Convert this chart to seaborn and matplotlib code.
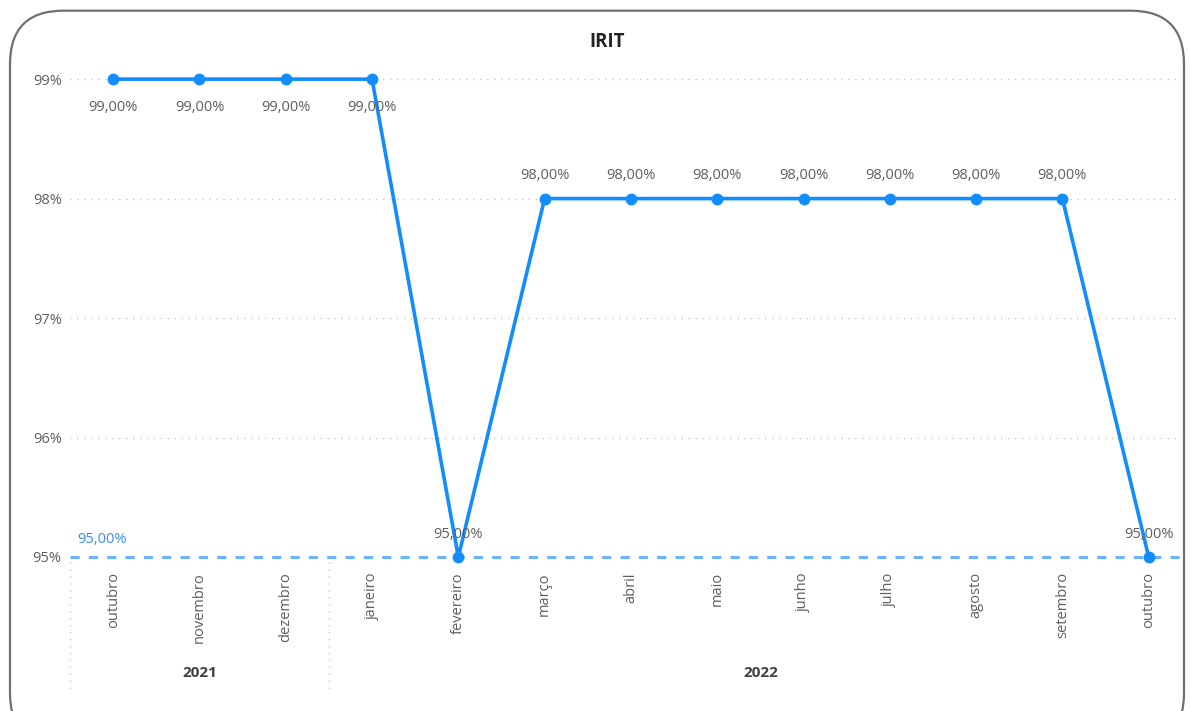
import numpy as np
import pandas as pd
import seaborn as sns
import matplotlib.pyplot as plt
from matplotlib.patches import FancyBboxPatch

# Data
months = ["outubro", "novembro", "dezembro", "janeiro", "fevereiro", "março", "abril",
          "maio", "junho", "julho", "agosto", "setembro", "outubro"]
years = ["2021", "2021", "2021", "2022", "2022", "2022", "2022",
         "2022", "2022", "2022", "2022", "2022", "2022"]
irit = [99, 99, 99, 99, 95, 98, 98, 98, 98, 98, 98, 98, 95]
meta = 95
y_ticks = [95, 96, 97, 98, 99]

df = pd.DataFrame({"idx": np.arange(len(months)), "mes": months, "ano": years, "IRIT": irit})

sns.set_theme(style="white")
plt.rcParams["font.family"] = ["Open Sans", "DejaVu Sans"]

BLUE = "#118DFF"
GREY = "#605E5C"
FS = 10.5

fig = plt.figure(figsize=(11.9, 7.11), dpi=100)
ax = fig.add_axes([70 / 1190, 154 / 711, 1112 / 1190, 497 / 711])

# rounded card border
card = FancyBboxPatch((10 / 1190, -0.05), 1174 / 1190, 1.035, transform=fig.transFigure,
                      boxstyle="round,pad=0,rounding_size=0.045", fill=False,
                      edgecolor="#707070", linewidth=1.6, mutation_aspect=1190 / 711)
fig.patches.append(card)

# grid lines
for v in y_ticks[1:]:
    ax.axhline(v, color="#C8C8C8", linestyle=(0, (1, 4)), linewidth=1, zorder=0)
# reference line
ax.axhline(meta, color="#6AB4FF", linestyle=(0, (3, 3)), linewidth=2.2, zorder=1, clip_on=False)
ax.text(-0.42, meta + 0.08, "95,00%", color="#3C8CFF", fontsize=FS, ha="left", va="bottom")

sns.lineplot(data=df, x="idx", y="IRIT", ax=ax, color=BLUE, linewidth=2.6,
             marker="o", markersize=8.5, markeredgewidth=0, zorder=3, clip_on=False)

# data labels
for i, v in zip(df["idx"], df["IRIT"]):
    lbl = f"{v:.2f}%".replace(".", ",")
    if v == 99:
        ax.annotate(lbl, (i, v), xytext=(0, -15), textcoords="offset points",
                    ha="center", va="top", fontsize=FS, color=GREY)
    else:
        ax.annotate(lbl, (i, v), xytext=(0, 11), textcoords="offset points",
                    ha="center", va="bottom", fontsize=FS, color=GREY)

ax.set_xlim(-0.5, 12.386)
ax.set_ylim(95, 99.16)
ax.set_yticks(y_ticks)
ax.set_yticklabels([f"{v}%" for v in y_ticks], color=GREY, fontsize=FS)
ax.set_xticks(df["idx"])
ax.set_xticklabels(df["mes"], rotation=90, color=GREY, fontsize=FS, va="top", ha="center")
ax.tick_params(axis="x", length=0, pad=11)
ax.tick_params(axis="y", length=0, pad=6)
ax.set_xlabel("")
ax.set_ylabel("")
for s in ax.spines.values():
    s.set_visible(False)

# year groups below month labels
trans = ax.get_xaxis_transform()
for yr in pd.unique(df["ano"]):
    pos = df.loc[df["ano"] == yr, "idx"]
    ax.text((pos.min() + pos.max()) / 2, -0.233, yr, transform=trans, ha="center", va="center",
            fontsize=11, fontweight="bold", color="#404040")
    ax.plot([pos.min() - 0.5] * 2, [-0.01, -0.27], transform=trans, color="#C8C8C8",
            linestyle=(0, (1, 4)), linewidth=1, clip_on=False)

fig.text(607 / 1190, 1 - 42 / 711, "IRIT", ha="center", va="center", fontsize=13.5,
         fontweight="bold", color="#252423")

fig.savefig("out.png", dpi=100)
